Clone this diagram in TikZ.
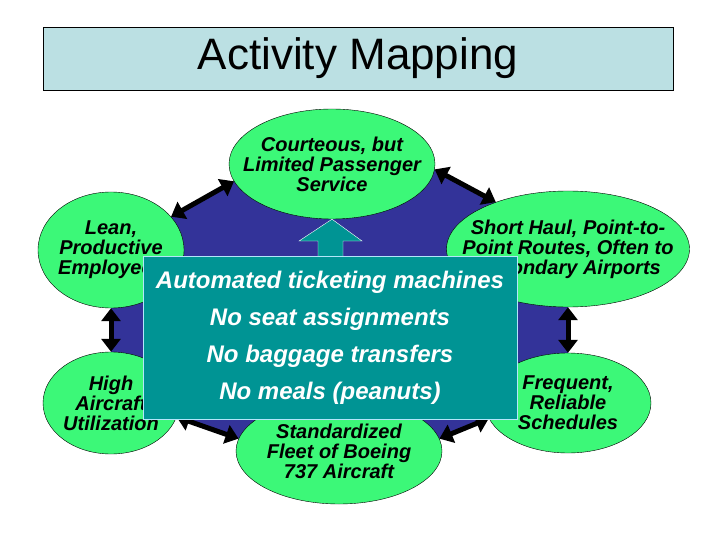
\documentclass[tikz,border=0pt]{standalone}
\usepackage{fontspec}
\setmainfont{Liberation Sans}
\usetikzlibrary{shapes.geometric,arrows.meta,backgrounds}
\definecolor{titleblue}{RGB}{187,224,227}
\definecolor{traitgreen}{RGB}{60,248,120}
\definecolor{hubblue}{RGB}{51,51,153}
\definecolor{boxteal}{RGB}{0,148,148}

\begin{document}
\begin{tikzpicture}[
                x=1pt, y=-1pt,
                trait/.style={ellipse,draw=black,thin,fill=traitgreen,inner sep=0pt},
                traittext/.style={align=center,inner sep=0pt,
                        font=\fontsize{20}{20}\selectfont\bfseries\itshape},
                link/.style={line width=5pt,{Triangle[length=13pt,width=19pt]}-{Triangle[length=13pt,width=19pt]}}
            ]
            \useasboundingbox (0,0) rectangle (720,540);

            \node[draw,fill=titleblue,minimum width=630pt,minimum height=63pt,
                font=\fontsize{44}{48}\selectfont] (title) at (358,58.5) {Activity Mapping};

            \node[trait,minimum width=206pt,minimum height=110pt,
                label={[traittext]center:Courteous, but\\Limited Passenger\\Service}] (top) at (332,164) {};
            \node[trait,minimum width=146pt,minimum height=116pt,
                label={[traittext]center:Lean,\\Productive\\Employees}] (lean) at (111,250) {};
            \node[trait,minimum width=243pt,minimum height=116pt,
                label={[traittext]center:Short Haul, Point-to-\\Point Routes, Often to\\Secondary Airports}] (short) at (568,249) {};
            \node[trait,minimum width=136pt,minimum height=102pt,
                label={[traittext]center:High\\Aircraft\\Utilization}] (high) at (111,403) {};
            \node[trait,minimum width=166pt,minimum height=100pt,
                label={[traittext]center:Frequent,\\Reliable\\Schedules}] (freq) at (568,403) {};
            \node[trait,minimum width=206pt,minimum height=106pt,
                label={[traittext]center:Standardized\\Fleet of Boeing\\737 Aircraft}] (std) at (339,451) {};

            % hub behind the ellipses
            \begin{scope}[on background layer]
                \fill[hubblue] (lean.29) -- (top.190) -- (top.-3) -- (short.147) -- (short.south)
                    -- (freq.north) -- (freq.191) -- (std.7) -- (std.173) -- (high.-12)
                    -- (high.north) -- (lean.south) -- cycle;
            \end{scope}

            \draw[link] (lean.29) -- (top.190);
            \draw[link] (top.-3) -- (short.147);
            \draw[link] (lean.south) -- (high.north);
            \draw[link] (short.south) -- (freq.north);
            \draw[link] (high.-12) -- (std.173);
            \draw[link] (std.7) -- (freq.191);

            % block arrow up to the top ellipse
            \draw[white,fill=boxteal] (318,260) -- (318,241) -- (299,241) -- (top.south)
                -- (362,241) -- (343,241) -- (343,260);

            \node[fill=boxteal,draw=white!70!cyan,minimum width=374pt,minimum height=163pt,
                text=white,align=center,font=\fontsize{24}{37}\selectfont\bfseries\itshape]
                (box) at (330,337.5)
                {Automated ticketing machines\\No seat assignments\\No baggage transfers\\No meals (peanuts)};

        \end{tikzpicture}
\end{document}
